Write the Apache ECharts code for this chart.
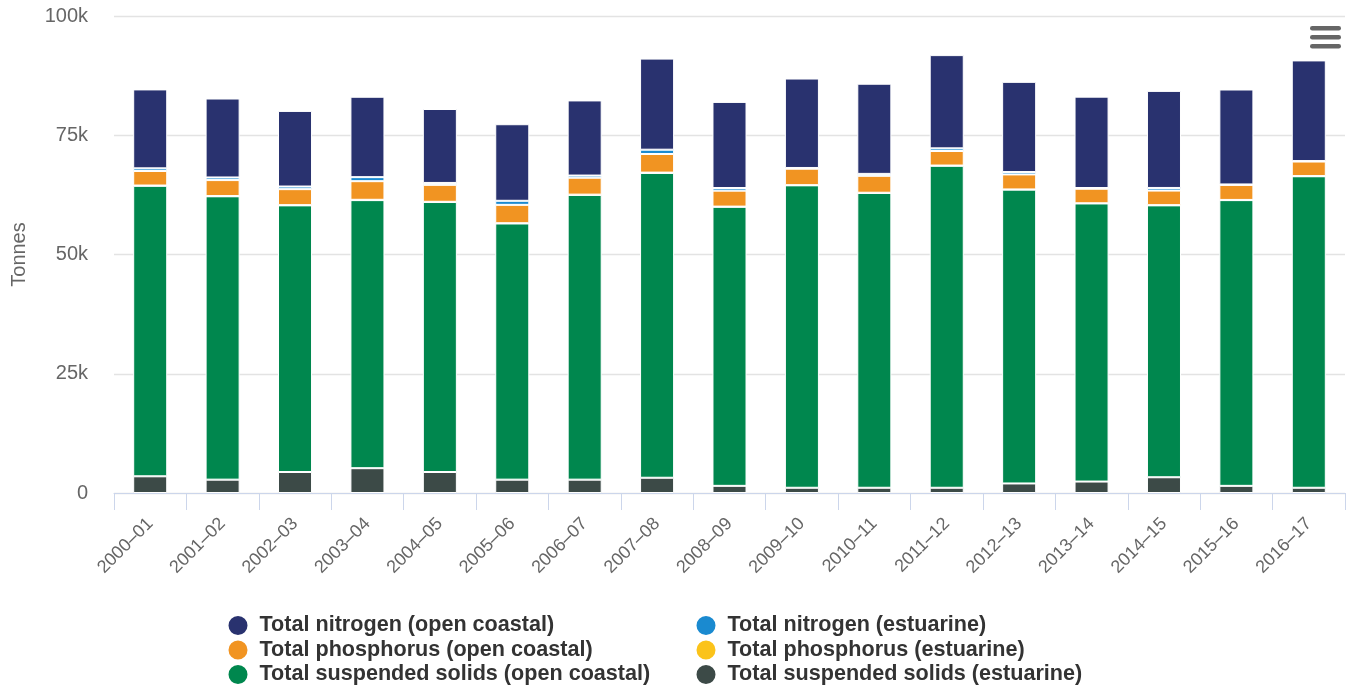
<!DOCTYPE html>
<html>
<head>
<meta charset="utf-8">
<script src="https://cdn.jsdelivr.net/npm/echarts@6/dist/echarts.min.js"></script>
<style>
html,body{margin:0;padding:0;background:#fff;}
#chart{width:1354px;height:689px;}
</style>
</head>
<body>
<div id="chart"></div>
<script>
// Categories (financial years)
const categories = ['2000–01','2001–02','2002–03','2003–04','2004–05','2005–06','2006–07','2007–08','2008–09','2009–10','2010–11','2011–12','2012–13','2013–14','2014–15','2015–16','2016–17'];

// Values in thousands of tonnes
const tnOpen  = [16.55, 16.55, 15.85, 16.85, 15.5, 16.05, 15.75, 19.1, 18.05, 18.75, 18.9, 19.55, 18.9, 19.15, 20.35, 19.9, 21.1];
const tnEst   = [0.55, 0.55, 0.55, 0.85, 0.4, 0.85, 0.45, 0.9, 0.55, 0.15, 0.4, 0.55, 0.5, 0.15, 0.55, 0.1, 0.1];
const tpOpen  = [3.05, 3.35, 3.35, 3.9, 3.55, 3.85, 3.55, 3.9, 3.35, 3.45, 3.55, 3.05, 3.15, 3.05, 3.05, 3.15, 3.05];
const tpEst   = [0.06, 0.05, 0.05, 0.07, 0.05, 0.06, 0.05, 0.07, 0.04, 0.04, 0.05, 0.05, 0.04, 0.04, 0.05, 0.04, 0.04];
const tssOpen = [60.9, 59.4, 55.9, 56.2, 56.6, 53.7, 59.7, 63.9, 58.5, 63.4, 61.8, 67.5, 61.6, 58.3, 57.0, 59.9, 65.3];
const tssEst  = [3.5, 2.8, 4.4, 5.2, 4.4, 2.8, 2.8, 3.2, 1.5, 1.1, 1.1, 1.1, 2.0, 2.4, 3.3, 1.5, 1.1];

const yTickLabels = ['0', '25k', '50k', '75k', '100k'];

const names = {
  tnOpen: 'Total nitrogen (open coastal)',
  tnEst: 'Total nitrogen (estuarine)',
  tpOpen: 'Total phosphorus (open coastal)',
  tpEst: 'Total phosphorus (estuarine)',
  tssOpen: 'Total suspended solids (open coastal)',
  tssEst: 'Total suspended solids (estuarine)'
};
const colors = {
  tnOpen: '#29326f', tnEst: '#1a8ad0', tpOpen: '#f19422',
  tpEst: '#fbc31a', tssOpen: '#00874e', tssEst: '#3c4a47'
};
const toTonnes = arr => arr.map(v => Math.round(v * 1000));
const FONT = 'Liberation Sans, Arial, sans-serif';

function bar(key, data) {
  return {
    name: names[key], type: 'bar', stack: 'total', data: toTonnes(data),
    barWidth: '47%',
    itemStyle: { color: colors[key], borderColor: '#ffffff', borderWidth: 1 },
    emphasis: { disabled: true }
  };
}

const legendText = { fontFamily: FONT, fontSize: 21.6, fontWeight: 'bold', color: '#333333', padding: [0, 0, 0, 6] };
function legendItem(key, left, top) {
  return { left: left, top: top, icon: 'circle', itemWidth: 21, itemHeight: 21,
    textStyle: legendText, selectedMode: false, padding: 0, data: [names[key]] };
}

const chart = echarts.init(document.getElementById('chart'), null, { renderer: 'canvas' });
chart.setOption({
  animation: false,
  backgroundColor: '#ffffff',
  grid: { left: 114, right: 9, top: 16, bottom: 196, containLabel: false },
  legend: [
    legendItem('tnOpen', 226.5, 614),
    legendItem('tpOpen', 226.5, 638.5),
    legendItem('tssOpen', 226.5, 663),
    legendItem('tnEst', 694.5, 614),
    legendItem('tpEst', 694.5, 638.5),
    legendItem('tssEst', 694.5, 663)
  ],
  xAxis: {
    type: 'category', data: categories, boundaryGap: true,
    axisLine: { lineStyle: { color: '#ccd6eb', width: 1 } },
    axisTick: { show: true, length: 17, lineStyle: { color: '#ccd6eb' } },
    axisLabel: { rotate: 45, interval: 0, margin: 28, fontSize: 18, color: '#666666', fontFamily: FONT }
  },
  yAxis: {
    type: 'value', min: 0, max: 100000, interval: 25000,
    name: 'Tonnes', nameLocation: 'middle', nameGap: 85, nameRotate: 90,
    nameTextStyle: { fontSize: 20, color: '#666666', fontFamily: FONT },
    axisLine: { show: false }, axisTick: { show: false },
    splitLine: { lineStyle: { color: '#e3e3e3', width: 1.4 } },
    axisLabel: { margin: 26, fontSize: 20, color: '#666666', fontFamily: FONT,
      formatter: (v) => yTickLabels[Math.round(v / 25000)] }
  },
  series: [
    bar('tssEst', tssEst),
    bar('tssOpen', tssOpen),
    bar('tpEst', tpEst),
    bar('tpOpen', tpOpen),
    bar('tnEst', tnEst),
    bar('tnOpen', tnOpen)
  ],
  graphic: [
    { type: 'rect', left: 1310, top: 26, shape: { width: 31, height: 4.5, r: 2.25 }, style: { fill: '#666666' } },
    { type: 'rect', left: 1310, top: 35, shape: { width: 31, height: 4.5, r: 2.25 }, style: { fill: '#666666' } },
    { type: 'rect', left: 1310, top: 44, shape: { width: 31, height: 4.5, r: 2.25 }, style: { fill: '#666666' } }
  ]
});
</script>
</body>
</html>
